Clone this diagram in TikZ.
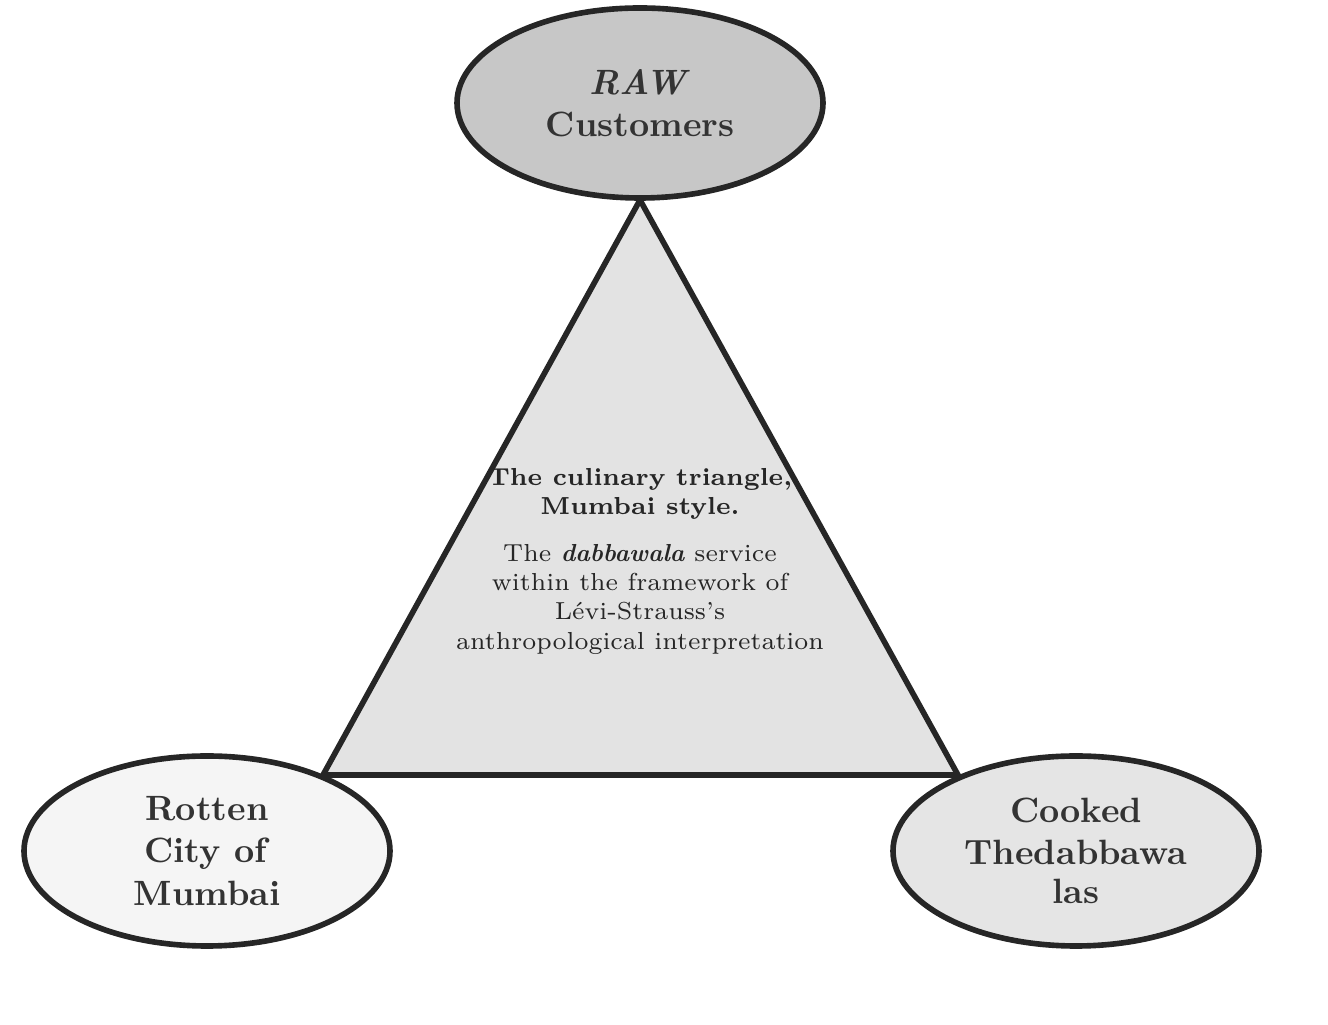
\documentclass[tikz,border=0pt]{standalone}
\usetikzlibrary{shapes.geometric,positioning}
\definecolor{rawfill}{gray}{0.78}
\definecolor{rotfill}{gray}{0.96}
\definecolor{cookfill}{gray}{0.90}
\definecolor{trifill}{gray}{0.89}
\tikzset{
  pole/.style={ellipse,draw=black!85,line width=1.6pt,minimum width=3.66cm,minimum height=1.9cm,
    align=center,font=\fontsize{10}{11}\selectfont\bfseries,text=black!80},
}
\begin{document}
\begin{tikzpicture}
  \useasboundingbox (0,0) rectangle (13.28,10.25);
  % vertices of the triangle
  \coordinate (apex) at (6.40,8.25);
  \coordinate (bl)   at (3.23,2.50);
  \coordinate (br)   at (9.58,2.50);
  \filldraw[fill=trifill,draw=black!85,line width=1.6pt,line join=miter] (apex) -- (bl) -- (br) -- cycle;

  \node[pole,fill=rawfill]  (raw)    at (6.40,9.22) {\textit{RAW}\\[1pt]\textsc{Customers}};
  \node[pole,fill=rotfill]  (rotten) at (2.07,1.74) {\textit{\textsc{Rotten}}\\[1pt]\textsc{City of}\\[1pt]\textsc{Mumbai}};
  \node[pole,fill=cookfill] (cooked) at (10.76,1.74) {\textit{\textsc{Cooked}}\\[1pt]\textsc{Thedabbawa}\\\textsc{las}};

  \node[align=center,font=\fontsize{7}{8.3}\selectfont\bfseries,text=black!85] (title) at (6.40,5.31)
    {The culinary triangle,\\Mumbai style.};
  \node[align=center,font=\fontsize{7}{8.3}\selectfont,text=black!85,below=0pt of title] (desc)
    {The \textbf{\textit{dabbawala}} service\\within the framework of\\L\'evi-Strauss's\\anthropological interpretation};
\end{tikzpicture}
\end{document}
